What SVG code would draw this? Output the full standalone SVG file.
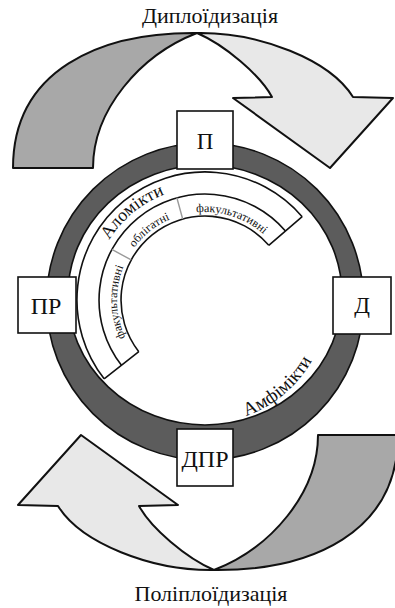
<svg xmlns="http://www.w3.org/2000/svg" width="395" height="608" viewBox="0 0 395 608">
<style>
.lbl{font-family:"Liberation Serif","DejaVu Serif",serif;fill:#111}
.box{fill:#fff;stroke:#111;stroke-width:1.6}
.arc{fill:none;stroke:#111;stroke-width:1.6}
.div{fill:none;stroke:#9a9a9a;stroke-width:1.4}
.back{fill:#a8a8a8;stroke:#111;stroke-width:2;stroke-linejoin:round}
.front{fill:#e8e8e8;stroke:#111;stroke-width:2;stroke-linejoin:round}
.ring{fill:#5c5c5c;fill-rule:evenodd;stroke:#111;stroke-width:1.6}
</style>
<defs>
<g id="curl">
<path class="back" d="M13,168 C13,70 100,32 197,33 C140,55 93,110 93,168 Z"/>
<path class="front" d="M197,33 C260,32 330,60 353,97 L393,98 L330,168 L233,98 L272,97 C260,75 225,45 197,33 Z"/>
</g>
<path id="tp-alo" d="M98.81,261.35 A113,113 0 0 1 187.32,188.39"/>
<path id="tp-obl" d="M122.31,269.90 A88,88 0 0 1 194.28,212.66"/>
<path id="tp-fak1" d="M186.70,213.92 A88,88 0 0 1 270.40,241.12"/>
<path id="tp-fak2" d="M130.37,346.63 A88,88 0 0 1 128.03,257.34"/>
<path id="tp-amf" d="M215.72,422.53 A123,123 0 0 0 323.81,331.83"/>
</defs>

<g id="connectors">
<use id="arrow-diploid" href="#curl"/>
<use id="arrow-poliploid" href="#curl" transform="rotate(180 205.5 301.5)"/>
</g>

<text class="lbl" x="210" y="23" font-size="22" text-anchor="middle">Диплоїдизація</text>
<text class="lbl" x="211" y="601" font-size="22" text-anchor="middle">Поліплоїдизація</text>

<g id="ring">
<path class="ring" d="M46.5,301.5 a158.5,158.5 0 1 0 317,0 a158.5,158.5 0 1 0 -317,0 Z M68,295 a137,130 0 1 0 274,0 a137,130 0 1 0 -274,0 Z"/>
<text class="lbl" font-size="19"><textPath href="#tp-amf" startOffset="50%" text-anchor="middle">Амфімікти</textPath></text>
</g>

<g id="alomikty">
<path class="arc" d="M104.13,378.80 A128,128 0 0 1 302.19,216.70"/>
<path class="arc" d="M121.47,365.26 A106,106 0 0 1 285.48,231.02"/>
<path class="arc" d="M138.81,351.72 A84,84 0 0 1 268.78,245.34"/>
<path class="arc" d="M104.13,378.80 L138.81,351.72 M302.19,216.70 L268.78,245.34"/>
<path class="div" d="M111.85,249.42 L131.18,259.92 M176.85,197.81 L182.69,219.02"/>
<text class="lbl" font-size="18"><textPath href="#tp-alo" startOffset="50%" text-anchor="middle">Аломікти</textPath></text>
<text class="lbl" font-size="12"><textPath href="#tp-obl" startOffset="50%" text-anchor="middle">облігатні</textPath></text>
<text class="lbl" font-size="12"><textPath href="#tp-fak1" startOffset="50%" text-anchor="middle">факультативні</textPath></text>
<text class="lbl" font-size="12"><textPath href="#tp-fak2" startOffset="50%" text-anchor="middle">факультативні</textPath></text>
</g>

<g id="node-P">
<rect class="box" x="177" y="111" width="56" height="58"/>
<text class="lbl" x="205" y="149" font-size="23" text-anchor="middle">П</text>
</g>
<g id="node-D">
<rect class="box" x="333" y="277" width="58" height="57"/>
<text class="lbl" x="362" y="313" font-size="23" text-anchor="middle">Д</text>
</g>
<g id="node-PR">
<rect class="box" x="18" y="277" width="58" height="56"/>
<text class="lbl" x="46" y="314" font-size="24" text-anchor="middle">ПР</text>
</g>
<g id="node-DPR">
<rect class="box" x="177" y="429" width="56" height="57"/>
<text class="lbl" x="205" y="467" font-size="24" text-anchor="middle">ДПР</text>
</g>
</svg>
